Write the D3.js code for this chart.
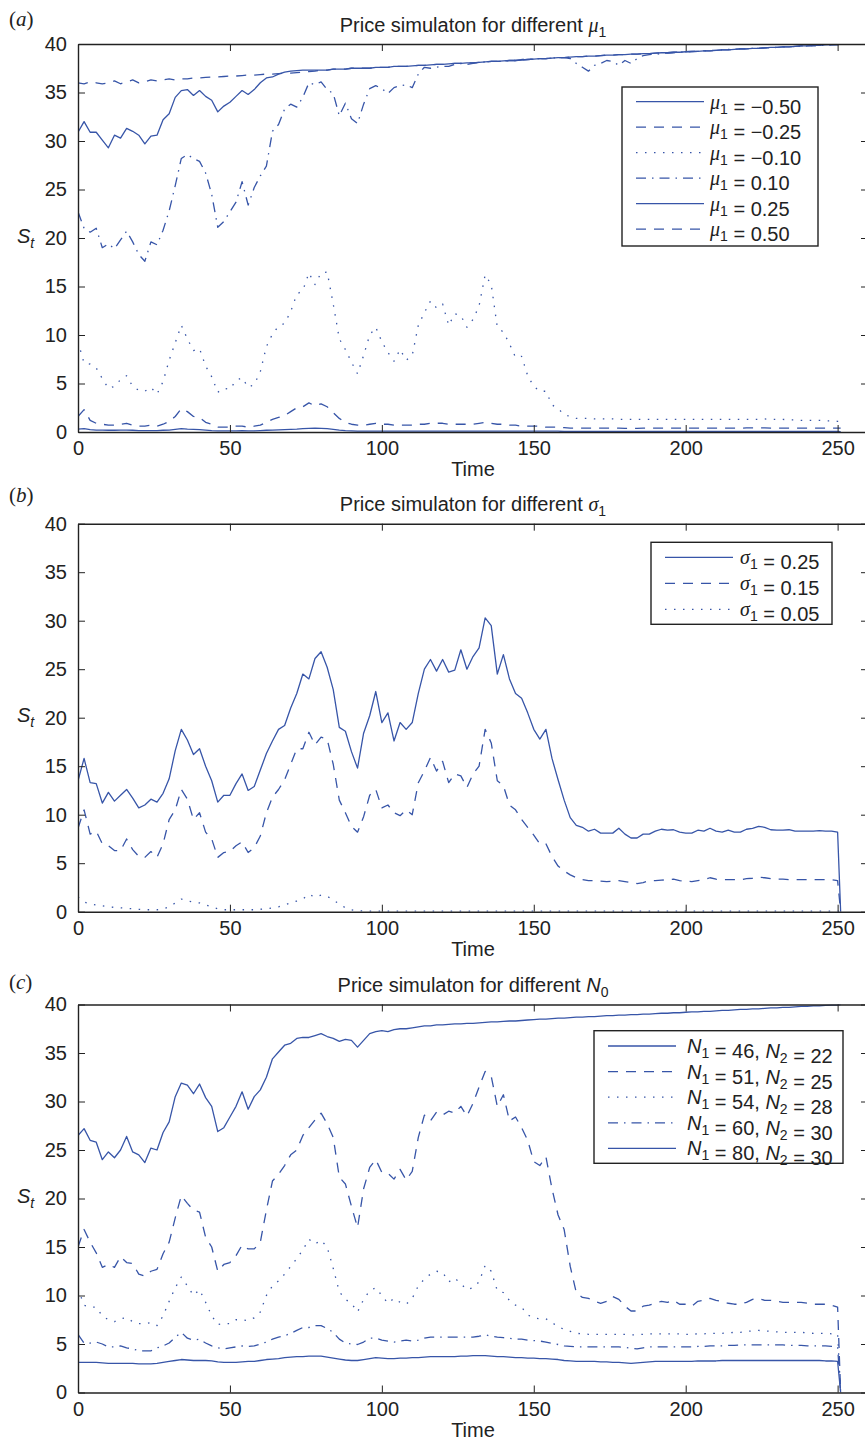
<!DOCTYPE html>
<html>
<head>
<meta charset="utf-8">
<script src="https://cdn.jsdelivr.net/npm/d3@7"></script>
<style>
  body { margin: 0; background: #fff; }
  svg { display: block; }
</style>
</head>
<body>
<svg id="chart" width="865" height="1441"></svg>
<script>
(() => {
  'use strict';

  // time grid (every 2nd step, last one is the final step)
  const time = [0,2,4,6,8,10,12,14,16,18,20,22,24,26,28,30,32,34,36,38,40,42,44,46,48,50,52,54,56,58,60,62,64,66,68,70,72,74,76,78,80,82,84,86,88,90,92,94,96,98,100,102,104,106,108,110,112,114,116,118,120,122,124,126,128,130,132,134,136,138,140,142,144,146,148,150,152,154,156,158,160,162,164,166,168,170,172,174,176,178,180,182,184,186,188,190,192,194,196,198,200,202,204,206,208,210,212,214,216,218,220,222,224,226,228,230,232,234,236,238,240,242,244,246,248,250,251];

  const xTicks = [0, 50, 100, 150, 200, 250];
  const yTicks = [0, 5, 10, 15, 20, 25, 30, 35, 40];

  // ---- panel (a): different mu1 ----
  const muLabels = ["\u22120.50", "\u22120.25", "\u22120.10", "0.10", "0.25", "0.50"];

  const muNeg050 = [0.3,0.35,0.25,0.2,0.2,0.18,0.18,0.2,0.2,0.18,
    0.15,0.15,0.15,0.15,0.18,0.2,0.28,0.35,0.3,0.28,
    0.25,0.2,0.15,0.12,0.12,0.12,0.12,0.14,0.12,0.12,
    0.15,0.18,0.2,0.22,0.25,0.28,0.3,0.35,0.38,0.4,
    0.38,0.35,0.28,0.2,0.15,0.12,0.1,0.1,0.1,0.1,
    0.1,0.1,0.1,0.1,0.1,0.1,0.1,0.1,0.1,0.1,
    0.1,0.1,0.1,0.1,0.1,0.1,0.1,0.1,0.1,0.1,
    0.08,0.08,0.08,0.08,0.08,0.08,0.08,0.08,0.08,0.08,
    0.05,0.05,0.05,0.05,0.05,0.05,0.05,0.05,0.05,0.05,
    0.05,0.05,0.05,0.05,0.05,0.05,0.05,0.05,0.05,0.05,
    0.05,0.05,0.05,0.05,0.05,0.05,0.05,0.05,0.05,0.05,
    0.05,0.05,0.05,0.05,0.05,0.05,0.05,0.05,0.05,0.05,
    0.05,0.05,0.05,0.05,0.05,0.05,
    0.03];

  const muNeg025 = [1.6,2.3,1.2,0.9,0.8,0.7,0.7,0.8,0.9,0.7,
    0.6,0.6,0.7,0.6,0.8,1.1,1.6,2.4,2.1,1.6,
    1.5,1.0,0.8,0.5,0.5,0.5,0.6,0.6,0.5,0.6,
    0.7,1.0,1.3,1.5,1.7,2.1,2.5,2.6,3.0,2.7,
    2.9,2.6,2.0,1.4,1.0,0.8,0.7,0.7,0.8,0.9,
    0.8,0.8,0.7,0.7,0.7,0.7,0.8,0.8,0.9,0.9,
    0.9,0.8,0.8,0.8,0.8,0.8,0.9,1.0,0.9,0.8,
    0.8,0.7,0.7,0.6,0.6,0.6,0.6,0.5,0.5,0.5,
    0.45,0.4,0.4,0.4,0.4,0.4,0.4,0.4,0.42,0.4,
    0.38,0.38,0.38,0.4,0.4,0.4,0.4,0.4,0.4,0.4,
    0.4,0.4,0.4,0.4,0.4,0.4,0.4,0.4,0.4,0.4,
    0.42,0.42,0.42,0.42,0.4,0.4,0.4,0.4,0.4,0.4,
    0.4,0.4,0.4,0.4,0.4,0.4,
    0.4];

  const muNeg010 = [9.3,7.1,7.0,6.6,5.5,4.5,4.7,5.4,5.8,4.7,
    4.3,4.2,4.6,3.9,5.2,7.4,9.2,11.0,9.6,8.4,
    8.6,6.8,5.7,4.1,4.5,4.4,5.3,5.6,4.6,4.9,
    6.2,8.8,10.1,10.9,11.2,12.4,14.2,14.6,16.4,15.2,
    16.4,16.5,13.2,9.6,8.5,7.2,6.0,7.9,10.0,10.8,
    9.3,8.2,7.3,8.5,7.4,7.9,11.0,12.3,13.5,12.8,
    13.2,11.0,12.2,12.0,10.8,11.6,13.0,16.2,15.2,10.8,
    10.3,9.1,7.7,7.8,5.8,4.7,4.2,4.2,2.8,2.4,
    1.8,1.6,1.4,1.4,1.4,1.35,1.35,1.35,1.35,1.3,
    1.3,1.3,1.3,1.3,1.3,1.3,1.3,1.3,1.3,1.3,
    1.3,1.3,1.3,1.3,1.3,1.3,1.3,1.3,1.3,1.3,
    1.3,1.3,1.3,1.35,1.3,1.3,1.3,1.25,1.25,1.2,
    1.2,1.2,1.2,1.15,1.15,1.1,
    1.1];

  const muPos010 = [22.7,21.0,20.6,21.0,19.0,19.4,18.9,19.8,20.7,19.6,
    18.3,17.6,19.6,19.3,20.8,22.8,25.4,28.2,28.6,28.2,
    27.9,26.7,24.5,21.1,21.7,22.7,23.7,25.8,23.4,25.2,
    26.4,27.4,31.0,31.7,33.3,33.8,33.5,34.5,36.0,35.8,
    36.1,35.3,34.9,32.6,33.9,32.3,31.8,33.8,35.4,35.7,
    35.4,34.9,35.5,35.7,35.8,35.5,36.9,37.6,37.5,37.6,
    37.7,37.7,37.9,38.0,37.9,38.0,38.1,38.15,38.2,38.2,
    38.2,38.3,38.3,38.4,38.4,38.45,38.5,38.5,38.55,38.6,
    38.6,38.5,38.0,37.6,37.2,37.8,38.0,38.3,38.2,37.8,
    38.3,38.0,38.5,38.8,38.9,38.95,39.0,39.05,39.1,39.15,
    39.2,39.2,39.25,39.3,39.35,39.35,39.4,39.45,39.45,39.5,
    39.5,39.55,39.55,39.6,39.6,39.65,39.7,39.7,39.75,39.75,
    39.8,39.8,39.85,39.85,39.9,39.95,
    40.0];

  const muPos025 = [30.9,32.0,30.9,30.9,30.1,29.3,30.6,30.3,31.3,31.0,
    30.6,29.7,30.5,30.6,32.2,32.8,34.5,35.2,35.3,34.7,
    35.2,34.6,34.2,33.0,33.6,34.0,34.6,35.2,34.8,35.3,
    36.0,36.5,36.6,36.9,37.1,37.2,37.25,37.3,37.3,37.3,
    37.3,37.3,37.4,37.4,37.4,37.5,37.5,37.5,37.5,37.6,
    37.6,37.6,37.7,37.7,37.7,37.75,37.8,37.8,37.85,37.9,
    37.9,37.95,38.0,38.0,38.05,38.05,38.1,38.15,38.2,38.2,
    38.25,38.3,38.3,38.35,38.4,38.45,38.5,38.5,38.55,38.6,
    38.6,38.65,38.7,38.7,38.75,38.75,38.8,38.85,38.85,38.9,
    38.9,38.95,38.95,39.0,39.0,39.05,39.1,39.1,39.15,39.15,
    39.2,39.25,39.25,39.3,39.3,39.35,39.4,39.4,39.45,39.5,
    39.5,39.55,39.55,39.6,39.65,39.65,39.7,39.7,39.75,39.8,
    39.8,39.85,39.85,39.9,39.95,39.95,
    40.0];

  const muPos050 = [36.0,35.9,36.1,36.0,35.9,36.0,36.2,35.9,36.1,36.3,
    36.0,36.1,36.3,36.2,36.3,36.4,36.3,36.4,36.4,36.5,
    36.5,36.55,36.6,36.6,36.65,36.7,36.7,36.75,36.8,36.8,
    36.85,36.9,36.9,36.95,37.0,37.0,37.05,37.1,37.15,37.2,
    37.3,37.3,37.4,37.4,37.4,37.5,37.5,37.5,37.5,37.6,
    37.6,37.6,37.7,37.7,37.7,37.75,37.8,37.8,37.85,37.9,
    37.9,37.95,38.0,38.0,38.05,38.05,38.1,38.15,38.2,38.2,
    38.25,38.3,38.3,38.35,38.4,38.45,38.5,38.5,38.55,38.6,
    38.6,38.65,38.7,38.7,38.75,38.75,38.8,38.85,38.85,38.9,
    38.9,38.95,38.95,39.0,39.0,39.05,39.1,39.1,39.15,39.15,
    39.2,39.25,39.25,39.3,39.3,39.35,39.4,39.4,39.45,39.5,
    39.5,39.55,39.55,39.6,39.65,39.65,39.7,39.7,39.75,39.8,
    39.8,39.85,39.85,39.9,39.95,39.95,
    40.0];

  // ---- panel (b): different sigma1 ----
  const sigmaLabels = ["0.25", "0.15", "0.05"];

  const sigma025 = [13.5,15.8,13.3,13.2,11.2,12.3,11.4,12.0,12.6,11.7,
    10.7,11.0,11.6,11.3,12.2,13.7,16.6,18.8,17.7,16.2,
    16.8,15.0,13.5,11.3,12.0,12.0,13.2,14.2,12.5,12.9,
    14.6,16.3,17.6,18.8,19.2,21.0,22.5,24.5,24.0,26.1,
    26.8,25.2,22.9,19.0,18.6,16.5,14.8,18.4,20.2,22.7,
    19.5,20.5,17.6,19.5,18.8,19.5,22.5,25.0,26.0,24.8,
    26.0,24.7,24.9,27.0,25.0,26.3,27.2,30.3,29.5,24.5,
    26.5,24.0,22.5,22.0,20.5,18.8,17.8,18.8,15.8,13.6,
    11.5,9.7,8.9,8.7,8.3,8.5,8.1,8.1,8.1,8.6,
    8.0,7.6,7.6,8.0,8.0,8.3,8.5,8.4,8.45,8.2,
    8.1,8.1,8.4,8.3,8.6,8.3,8.2,8.4,8.2,8.2,
    8.5,8.6,8.8,8.7,8.45,8.4,8.4,8.45,8.3,8.3,
    8.3,8.3,8.35,8.3,8.3,8.2,
    0];

  const sigma015 = [8.6,10.5,8.0,8.3,7.0,6.8,6.3,6.3,7.5,6.4,
    5.7,5.6,6.2,5.6,7.0,9.5,10.5,12.6,11.6,9.5,
    10.2,8.2,7.5,5.6,6.1,6.2,6.8,7.2,6.1,6.6,
    7.8,10.2,11.8,12.6,13.6,15.2,16.8,16.8,18.5,17.2,
    18.0,17.8,15.2,11.5,10.2,8.8,8.2,9.8,12.0,12.6,
    10.7,11.0,10.2,9.9,10.5,10.0,13.3,14.5,15.9,14.5,
    15.5,13.3,14.2,14.0,12.8,14.2,15.0,18.8,17.4,13.5,
    13.0,11.0,10.5,9.5,8.7,7.9,7.0,7.0,5.7,4.7,
    4.2,3.8,3.5,3.3,3.2,3.2,3.15,3.1,3.15,3.2,
    3.1,3.0,2.9,3.0,3.2,3.2,3.25,3.3,3.35,3.2,
    3.15,3.1,3.2,3.3,3.5,3.35,3.3,3.3,3.3,3.3,
    3.4,3.45,3.55,3.5,3.4,3.35,3.35,3.3,3.3,3.3,
    3.3,3.3,3.3,3.3,3.3,3.2,
    0];

  const sigma005 = [1.5,1.0,0.8,0.7,0.6,0.5,0.45,0.4,0.35,0.3,
    0.25,0.2,0.2,0.2,0.3,0.5,0.9,1.3,1.1,1.0,
    0.9,0.7,0.5,0.3,0.2,0.2,0.2,0.2,0.2,0.2,
    0.25,0.3,0.4,0.5,0.7,0.9,1.1,1.3,1.8,1.5,
    1.7,1.6,1.2,0.8,0.4,0.2,0.1,0.08,0.06,0.05,
    0.05,0.05,0.05,0.05,0.05,0.05,0.05,0.05,0.05,0.05,
    0.05,0.05,0.05,0.05,0.05,0.05,0.05,0.05,0.05,0.05,
    0.05,0.05,0.05,0.05,0.05,0.05,0.05,0.05,0.05,0.05,
    0.05,0.05,0.05,0.05,0.05,0.05,0.05,0.05,0.05,0.05,
    0.05,0.05,0.05,0.05,0.05,0.05,0.05,0.05,0.05,0.05,
    0.05,0.05,0.05,0.05,0.05,0.05,0.05,0.05,0.05,0.05,
    0.05,0.05,0.05,0.05,0.05,0.05,0.05,0.05,0.05,0.05,
    0.05,0.05,0.05,0.05,0.05,0.05,
    0];

  // ---- panel (c): different N0 ----
  const nLabels = [["46", "22"], ["51", "25"], ["54", "28"], ["60", "30"], ["80", "30"]];

  const n46 = [26.5,27.2,26.0,25.8,24.0,24.8,24.2,25.0,26.4,24.8,
    24.5,23.7,25.2,25.0,26.8,27.9,30.5,31.9,31.7,30.8,
    31.8,30.4,29.5,26.9,27.3,28.4,29.5,31.0,29.2,30.5,
    31.2,32.5,34.4,35.1,35.8,36.0,36.5,36.6,36.6,36.8,
    37.0,36.7,36.5,36.2,36.4,36.3,35.6,36.3,37.0,37.2,
    37.3,37.2,37.4,37.5,37.5,37.6,37.7,37.8,37.8,37.9,
    37.9,37.95,38.0,38.0,38.05,38.05,38.1,38.15,38.2,38.2,
    38.25,38.3,38.3,38.35,38.4,38.45,38.5,38.5,38.55,38.6,
    38.6,38.65,38.7,38.7,38.75,38.75,38.8,38.85,38.85,38.9,
    38.9,38.95,38.95,39.0,39.0,39.05,39.1,39.1,39.15,39.15,
    39.2,39.25,39.25,39.3,39.3,39.35,39.4,39.4,39.45,39.5,
    39.5,39.55,39.55,39.6,39.65,39.65,39.7,39.7,39.75,39.8,
    39.8,39.85,39.85,39.9,39.95,39.95,
    40.0];

  const n51 = [15.0,16.8,15.5,14.4,12.9,13.2,12.9,14.0,13.4,13.3,
    12.2,12.0,12.5,12.7,14.3,15.5,18.0,20.3,19.5,18.8,
    18.6,16.0,15.0,12.5,13.2,13.4,14.1,15.2,14.8,14.8,
    15.5,18.8,21.8,22.5,23.4,24.5,25.0,26.5,27.3,28.1,
    28.8,27.7,26.3,22.2,21.5,19.2,17.0,21.0,23.2,24.0,
    22.7,22.6,22.0,23.0,21.9,22.8,26.3,28.6,28.0,28.9,
    28.6,29.0,28.8,29.5,28.5,29.8,31.5,33.1,32.6,29.5,
    30.7,28.0,28.4,27.3,26.0,23.8,23.4,24.3,21.0,18.3,
    16.8,13.0,10.3,9.8,9.7,9.4,9.2,9.4,9.9,9.6,
    8.9,8.4,8.4,8.9,9.0,9.2,9.4,9.3,9.5,9.1,
    9.1,8.9,9.4,9.5,9.7,9.5,9.4,9.2,9.1,9.1,
    9.3,9.6,9.7,9.5,9.5,9.4,9.3,9.3,9.3,9.3,
    9.2,9.1,9.1,9.1,9.0,8.8,
    0];

  const n54 = [10.7,9.0,8.8,8.8,7.9,7.5,7.3,7.6,7.7,7.3,
    7.1,7.1,7.2,6.9,7.9,9.4,10.8,11.9,11.0,10.0,
    10.6,9.3,7.9,7.0,7.1,7.1,7.5,7.5,7.4,7.7,
    8.3,10.0,11.0,11.5,12.2,13.0,13.8,14.7,15.8,15.3,
    15.7,15.0,12.8,10.4,9.6,9.2,8.3,9.6,10.5,10.8,
    10.0,9.2,9.7,9.3,9.1,9.7,11.0,11.7,12.2,12.5,
    12.4,11.4,11.8,11.2,10.6,10.8,11.4,13.1,12.5,10.5,
    10.3,9.5,9.0,8.8,8.0,7.7,7.6,7.6,7.2,6.8,
    6.5,6.3,6.1,6.05,6.0,6.0,6.0,6.0,6.0,6.0,
    6.0,5.95,5.95,6.0,6.05,6.05,6.05,6.05,6.05,6.05,
    6.0,6.0,6.05,6.05,6.1,6.1,6.1,6.15,6.2,6.2,
    6.3,6.35,6.4,6.35,6.3,6.25,6.2,6.2,6.2,6.2,
    6.15,6.1,6.1,6.1,6.05,6.05,
    0];

  const n60 = [6.0,5.1,5.1,5.2,5.0,4.7,4.7,4.8,4.6,4.5,
    4.3,4.3,4.3,4.6,4.8,5.1,5.7,6.2,5.6,5.4,
    5.5,5.1,4.8,4.6,4.5,4.6,4.7,4.8,4.75,4.8,
    5.0,5.2,5.5,5.7,5.85,6.1,6.4,6.7,6.7,6.9,
    6.9,6.6,6.2,5.5,5.1,5.0,4.95,5.2,5.6,5.6,
    5.4,5.3,5.2,5.3,5.4,5.3,5.4,5.6,5.7,5.7,
    5.7,5.7,5.7,5.7,5.7,5.7,5.8,5.95,5.8,5.7,
    5.65,5.6,5.5,5.5,5.4,5.35,5.3,5.2,5.05,4.95,
    4.8,4.75,4.7,4.7,4.7,4.7,4.7,4.7,4.7,4.7,
    4.65,4.55,4.5,4.6,4.7,4.7,4.7,4.7,4.7,4.7,
    4.7,4.7,4.75,4.75,4.8,4.8,4.8,4.85,4.85,4.9,
    4.9,4.9,4.9,4.9,4.9,4.9,4.9,4.85,4.85,4.85,
    4.8,4.8,4.8,4.8,4.75,4.7,
    0];

  const n80 = [3.1,3.1,3.1,3.1,3.05,3.0,3.0,3.0,3.0,3.0,
    2.95,2.95,2.95,3.0,3.1,3.2,3.3,3.4,3.35,3.3,
    3.3,3.3,3.25,3.15,3.1,3.1,3.1,3.15,3.2,3.2,
    3.3,3.4,3.45,3.5,3.6,3.65,3.7,3.7,3.75,3.75,
    3.75,3.65,3.55,3.45,3.35,3.3,3.3,3.4,3.5,3.6,
    3.55,3.5,3.5,3.55,3.55,3.6,3.6,3.65,3.7,3.7,
    3.7,3.7,3.7,3.75,3.75,3.8,3.8,3.8,3.75,3.7,
    3.7,3.65,3.6,3.6,3.55,3.55,3.5,3.5,3.45,3.4,
    3.3,3.25,3.2,3.2,3.2,3.2,3.15,3.15,3.1,3.1,
    3.05,3.0,3.05,3.1,3.15,3.2,3.2,3.2,3.2,3.2,
    3.2,3.2,3.25,3.25,3.25,3.25,3.3,3.3,3.3,3.3,
    3.3,3.3,3.3,3.3,3.3,3.3,3.3,3.3,3.3,3.3,
    3.3,3.3,3.3,3.25,3.25,3.2,
    0];

  // ---- look ----
  const blue = "#3755a8";
  const ink = "#222";
  const sans = "'Liberation Sans', Arial, Helvetica, sans-serif";
  const serif = "'Liberation Serif', 'Times New Roman', serif";
  const dashes = {solid: null, dashed: "10,8", dotted: "1.5,7.5", dashdot: "10,6,1.5,6"};

  const svg = d3.select("#chart");
  const x = d3.scaleLinear().domain([0, 260]).range([78, 868]);
  const plotH = 388;

  // symbol with subscript, e.g. mu_1, N_0, S_t
  function addVar(text, sym, font, sub, subItalic) {
    text.append("tspan").attr("font-family", font).attr("font-style", "italic").text(sym);
    text.append("tspan").attr("font-size", 14).attr("dy", 5)
      .attr("font-style", subItalic ? "italic" : null).text(sub);
    text.append("tspan").attr("dy", -5).text("");
  }

  const panels = [
    {
      id: "a", tag: "a", tagY: 26, top: 44,
      title: ["\u03bc", serif, "1"],
      legend: {x: 622, y: 87, w: 196, h: 159, row0: 101.7, step: 25.5, sx: 636, tx: 710},
      series: [
        {values: muNeg050, dash: "solid"},
        {values: muNeg025, dash: "dashed"},
        {values: muNeg010, dash: "dotted"},
        {values: muPos010, dash: "dashdot"},
        {values: muPos025, dash: "solid"},
        {values: muPos050, dash: "dashed"}
      ],
      label: (t, i) => { addVar(t, "\u03bc", serif, "1"); t.append("tspan").text(" = " + muLabels[i]); }
    },
    {
      id: "b", tag: "b", tagY: 502, top: 523.7,
      title: ["\u03c3", serif, "1"],
      legend: {x: 651, y: 542.3, w: 181, h: 82, row0: 557.3, step: 26, sx: 665, tx: 740},
      series: [
        {values: sigma025, dash: "solid"},
        {values: sigma015, dash: "dashed"},
        {values: sigma005, dash: "dotted"}
      ],
      label: (t, i) => { addVar(t, "\u03c3", serif, "1"); t.append("tspan").text(" = " + sigmaLabels[i]); }
    },
    {
      id: "c", tag: "c", tagY: 989, top: 1004.5,
      title: ["N", sans, "0"],
      legend: {x: 594, y: 1030.7, w: 249, h: 132.6, row0: 1046, step: 25.6, sx: 608, tx: 687},
      series: [
        {values: n46, dash: "solid"},
        {values: n51, dash: "dashed"},
        {values: n54, dash: "dotted"},
        {values: n60, dash: "dashdot"},
        {values: n80, dash: "solid"}
      ],
      label: (t, i) => {
        addVar(t, "N", sans, "1");
        t.append("tspan").text(" = " + nLabels[i][0] + ", ");
        addVar(t, "N", sans, "2");
        t.append("tspan").text(" = " + nLabels[i][1]);
      }
    }
  ];

  function styleAxis(g) {
    g.attr("font-size", 20).attr("font-family", sans);
    g.select(".domain").attr("stroke", ink).attr("stroke-width", 1.4);
    g.selectAll(".tick line").attr("stroke", ink).attr("stroke-width", 1);
    g.selectAll(".tick text").attr("fill", ink);
  }

  panels.forEach(p => {
    const y0 = p.top + plotH;
    const y = d3.scaleLinear().domain([0, 40]).range([y0, p.top]);
    const g = svg.append("g");

    g.append("clipPath").attr("id", "clip-" + p.id)
      .append("rect").attr("x", x(0)).attr("y", p.top)
      .attr("width", x(260) - x(0)).attr("height", plotH);

    const line = d3.line()
      .x((d, i) => x(time[i]))
      .y(d => y(d));

    const lines = g.append("g").attr("clip-path", `url(#clip-${p.id})`);
    p.series.forEach(s => {
      lines.append("path")
        .datum(s.values)
        .attr("d", line)
        .attr("fill", "none")
        .attr("stroke", blue)
        .attr("stroke-width", 1.3)
        .attr("stroke-linejoin", "round")
        .attr("stroke-dasharray", dashes[s.dash]);
    });

    // box with inward ticks on all four sides
    g.append("g").attr("transform", `translate(0,${y0})`)
      .call(d3.axisBottom(x).tickValues(xTicks).tickSizeInner(-7).tickSizeOuter(0).tickPadding(9))
      .call(styleAxis);
    g.append("g").attr("transform", `translate(0,${p.top})`)
      .call(d3.axisTop(x).tickValues(xTicks).tickSizeInner(-7).tickSizeOuter(0).tickFormat(() => ""))
      .call(styleAxis);
    g.append("g").attr("transform", `translate(${x(0)},0)`)
      .call(d3.axisLeft(y).tickValues(yTicks).tickSizeInner(-7).tickSizeOuter(0).tickPadding(11))
      .call(styleAxis);
    g.append("g").attr("transform", `translate(${x(260)},0)`)
      .call(d3.axisRight(y).tickValues(yTicks).tickSizeInner(-7).tickSizeOuter(0).tickFormat(() => ""))
      .call(styleAxis);

    // title
    const title = g.append("text")
      .attr("x", (x(0) + x(260)) / 2).attr("y", p.top - 12.5)
      .attr("text-anchor", "middle")
      .attr("font-family", sans).attr("font-size", 20).attr("fill", ink)
      .text("Price simulaton for different ");
    addVar(title, p.title[0], p.title[1], p.title[2]);

    // panel tag, e.g. (a)
    g.append("text")
      .attr("x", 9).attr("y", p.tagY)
      .attr("font-family", serif).attr("font-size", 21).attr("fill", ink)
      .call(t => {
        t.append("tspan").text("(");
        t.append("tspan").attr("font-style", "italic").text(p.tag);
        t.append("tspan").text(")");
      });

    // axis labels
    g.append("text")
      .attr("x", (x(0) + x(260)) / 2).attr("y", y0 + 44)
      .attr("text-anchor", "middle")
      .attr("font-family", sans).attr("font-size", 20).attr("fill", ink)
      .text("Time");
    const yl = g.append("text")
      .attr("x", 17).attr("y", p.top + 198.5)
      .attr("font-family", sans).attr("font-size", 20).attr("fill", ink);
    addVar(yl, "S", sans, "t", true);

    // legend
    const L = p.legend;
    const lg = g.append("g");
    lg.append("rect")
      .attr("x", L.x).attr("y", L.y).attr("width", L.w).attr("height", L.h)
      .attr("fill", "#fff").attr("stroke", ink).attr("stroke-width", 1.4);
    p.series.forEach((s, i) => {
      const ry = L.row0 + i * L.step;
      lg.append("line")
        .attr("x1", L.sx).attr("x2", L.sx + 68)
        .attr("y1", ry).attr("y2", ry)
        .attr("stroke", blue).attr("stroke-width", 1.3)
        .attr("stroke-dasharray", dashes[s.dash]);
      const t = lg.append("text")
        .attr("x", L.tx).attr("y", ry + 7)
        .attr("font-family", sans).attr("font-size", 20).attr("fill", ink);
      p.label(t, i);
    });
  });
})();
</script>
</body>
</html>
